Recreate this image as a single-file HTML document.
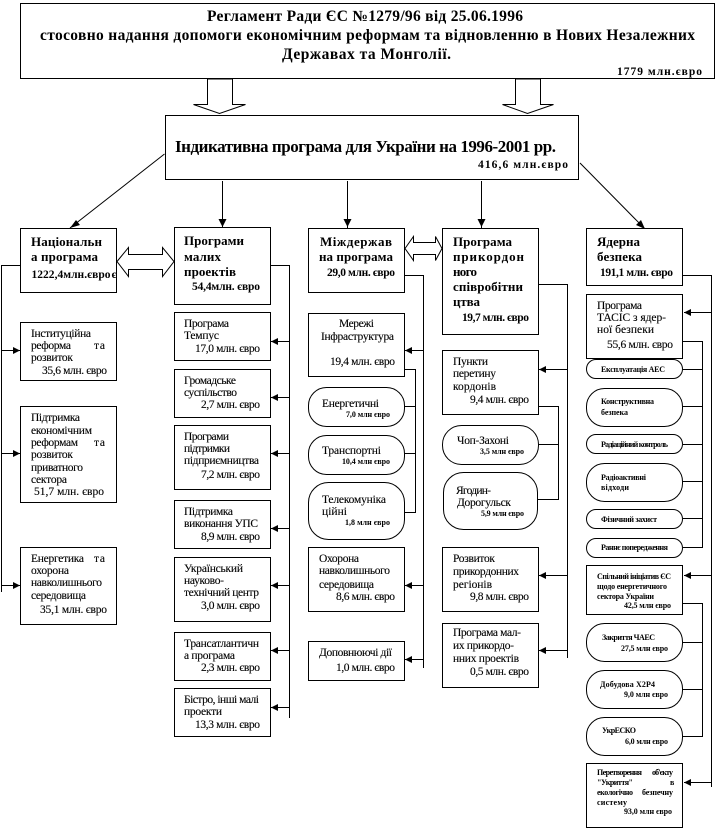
<!DOCTYPE html>
<html><head><meta charset="utf-8"><style>
html,body{margin:0;padding:0;background:#fff}
svg{display:block}
text{font-family:"Liberation Serif","DejaVu Serif",serif;fill:#000}
.r{font-size:11.5px;stroke:#000;stroke-width:.12}
.h{font-size:13px;font-weight:bold}
.m{font-size:11.5px;font-weight:bold}
.s{font-size:8px;font-weight:bold}
.t{font-size:15.5px;font-weight:bold}
.tt{font-size:17px;font-weight:bold}
rect,.p{fill:#fff;stroke:#000;stroke-width:1}
.w{fill:#fff;stroke:#000;stroke-width:1}
.l{fill:none;stroke:#000;stroke-width:1}
</style></head><body>
<svg xmlns="http://www.w3.org/2000/svg" width="715" height="831" viewBox="0 0 715 831">
<defs>
<polygon id="al" points="0,0 7,-3.5 7,3.5" fill="#000"/>
<polygon id="ar" points="0,0 -7,-3.5 -7,3.5" fill="#000"/>
<polygon id="ad" points="0,0 -4,-8 4,-8" fill="#000"/>
</defs>

<!-- connector lines -->
<path class="l" d="M164.5 154L70 228M222.5 181V228M347.5 181V228M481.5 181V228M580 163L645 229"/>
<polygon points="70,228 76,220 80,225" fill="#000"/>
<polygon points="645,229 636,225 641,220" fill="#000"/>
<use href="#ad" x="222.5" y="227"/><use href="#ad" x="347.5" y="227"/><use href="#ad" x="481.5" y="227"/>

<path class="l" d="M20 265.5H1.5V592M1.5 350.5H20M1.5 453.5H20M1.5 585.5H20"/>
<use href="#ar" x="20" y="350.5"/><use href="#ar" x="20" y="453.5"/><use href="#ar" x="20" y="585.5"/>

<path class="l" d="M270 265.5H289.5V718M289.5 341.5H271M289.5 397.5H271M289.5 453.5H271M289.5 528.5H271M289.5 585.5H271M289.5 650.5H271M289.5 707.5H271"/>
<use href="#al" x="271" y="341.5"/><use href="#al" x="271" y="397.5"/><use href="#al" x="271" y="453.5"/><use href="#al" x="271" y="528.5"/><use href="#al" x="271" y="585.5"/><use href="#al" x="271" y="650.5"/><use href="#al" x="271" y="707.5"/>

<path class="l" d="M405 275.5H423.5V668M423.5 350.5H405M423.5 585.5H405M423.5 659.5H405"/>
<use href="#al" x="405" y="350.5"/><use href="#al" x="405" y="585.5"/><use href="#al" x="405" y="659.5"/>
<path class="l" d="M405 369.5H415.5V512.5H405M405 406.5H415.5M405 453.5H415.5"/>

<path class="l" d="M539 284.5H567.5V658M567.5 369.5H539M567.5 575.5H539M567.5 650.5H539"/>
<use href="#al" x="539" y="369.5"/><use href="#al" x="539" y="575.5"/><use href="#al" x="539" y="650.5"/>
<path class="l" d="M539 406.5H558.5V499.5H537M539 444.5H558.5"/>

<path class="l" d="M683 275.5H711.5V787M711.5 312.5H684M711.5 575.5H684M711.5 782.5H684"/>
<use href="#al" x="684" y="312.5"/><use href="#al" x="684" y="575.5"/><use href="#al" x="684" y="782.5"/>
<path class="l" d="M683 341.5H702.5V547.5H683M683 369.5H702.5M683 406.5H702.5M683 444.5H702.5M683 481.5H702.5M683 518.5H702.5"/>
<path class="l" d="M683 603.5H702.5V736.5H683M683 642.5H702.5M683 689.5H702.5"/>

<!-- block arrows -->
<polygon class="w" points="207.5,79 232.5,79 232.5,104.5 245.5,104.5 219.5,113.5 193.5,104.5 207.5,104.5"/>
<polygon class="w" points="515.5,79 540.5,79 540.5,104.5 553.5,104.5 527.5,113.5 502.5,104.5 515.5,104.5"/>
<polygon class="w" points="117,261.5 128.5,247.5 128.5,254.5 162.5,254.5 162.5,247.5 174,261.5 162.5,276.5 162.5,269.5 128.5,269.5 128.5,276.5"/>
<polygon class="w" points="405,248.5 413.5,236.5 413.5,242.5 435.5,242.5 435.5,236.5 442,248.5 435.5,260.5 435.5,254.5 413.5,254.5 413.5,260.5"/>

<!-- boxes -->
<rect x="20.5" y="3.5" width="694" height="75"/>
<rect x="165.5" y="115.5" width="413" height="64"/>
<rect x="20.5" y="228.5" width="96" height="64"/>
<rect x="20.5" y="322.5" width="96" height="58"/>
<rect x="20.5" y="406.5" width="96" height="96"/>
<rect x="20.5" y="547.5" width="96" height="77"/>
<rect x="174.5" y="227.5" width="96" height="77"/>
<rect x="174.5" y="312.5" width="96" height="48"/>
<rect x="174.5" y="369.5" width="96" height="48"/>
<rect x="174.5" y="425.5" width="96" height="64"/>
<rect x="174.5" y="500.5" width="96" height="48"/>
<rect x="174.5" y="557.5" width="96" height="64"/>
<rect x="174.5" y="632.5" width="96" height="48"/>
<rect x="174.5" y="688.5" width="96" height="48"/>
<rect x="308.5" y="228.5" width="96" height="64"/>
<rect x="308.5" y="313.5" width="96" height="63"/>
<rect x="308.5" y="387.5" width="96" height="39" rx="18" ry="18"/>
<rect x="308.5" y="435.5" width="96" height="39" rx="18" ry="18"/>
<rect x="308.5" y="482.5" width="96" height="57" rx="20" ry="20"/>
<rect x="308.5" y="547.5" width="96" height="64"/>
<rect x="308.5" y="641.5" width="96" height="39"/>
<rect x="442.5" y="228.5" width="96" height="106"/>
<rect x="442.5" y="350.5" width="96" height="64"/>
<rect x="442.5" y="425.5" width="96" height="39" rx="19" ry="19"/>
<rect x="443.5" y="472.5" width="94" height="57" rx="20" ry="20"/>
<rect x="442.5" y="547.5" width="96" height="64"/>
<rect x="442.5" y="623.5" width="96" height="64"/>
<rect x="586.5" y="228.5" width="96" height="57"/>
<rect x="586.5" y="294.5" width="96" height="64"/>
<rect x="586.5" y="359.5" width="96" height="19" rx="9.5" ry="9.5"/>
<rect x="586.5" y="388.5" width="96" height="38" rx="18" ry="18"/>
<rect x="586.5" y="434.5" width="96" height="19" rx="9.5" ry="9.5"/>
<rect x="586.5" y="463.5" width="96" height="38" rx="18" ry="18"/>
<rect x="586.5" y="509.5" width="96" height="19" rx="9.5" ry="9.5"/>
<rect x="586.5" y="538.5" width="96" height="19" rx="9.5" ry="9.5"/>
<rect x="586.5" y="565.5" width="96" height="49"/>
<rect x="586.5" y="623.5" width="96" height="38" rx="18" ry="18"/>
<rect x="586.5" y="670.5" width="96" height="38" rx="18" ry="18"/>
<rect x="586.5" y="717.5" width="96" height="38" rx="18" ry="18"/>
<rect x="586.5" y="763.5" width="96" height="64"/>

<!-- top titles -->
<text class="t" x="207" y="21" textLength="316">Регламент Ради ЄС №1279/96 від 25.06.1996</text>
<text class="t" x="40" y="40" textLength="655">стосовно надання допомоги економічним реформам та відновленню в Нових  Незалежних</text>
<text class="t" x="282" y="59" textLength="169">Державах та  Монголії.</text>
<text class="m" x="617" y="75" textLength="85">1779 млн.євро</text>
<text class="tt" x="175" y="152" textLength="381">Індикативна програма для України на 1996-2001 рр.</text>
<text class="m" x="478" y="168" textLength="90">416,6 млн.євро</text>

<!-- column 1 -->
<text class="h" x="31" y="246" textLength="71">Національн</text>
<text class="h" x="31" y="261" textLength="67">а програма</text>
<text class="m" x="31.500" y="278" textLength="79">1222,4млн.євро</text>
<text class="m" x="111.500" y="278">є</text>
<text class="r" x="31" y="337" textLength="60">Інституційна</text>
<text class="r" x="31" y="349" textLength="40">реформа</text><text class="r" x="94" y="349" textLength="11">та</text>
<text class="r" x="31" y="361" textLength="42">розвиток</text>
<text class="r" x="42" y="374" textLength="65">35,6 млн. євро</text>
<text class="r" x="31" y="421" textLength="49">Підтримка</text>
<text class="r" x="31" y="434" textLength="61">економічним</text>
<text class="r" x="31" y="446" textLength="47">реформам</text><text class="r" x="94" y="446" textLength="11">та</text>
<text class="r" x="31" y="458" textLength="42">розвиток</text>
<text class="r" x="31" y="471" textLength="52">приватного</text>
<text class="r" x="31" y="483" textLength="36">сектора</text>
<text class="r" x="34" y="495" textLength="70">51,7  млн.  євро</text>
<text class="r" x="31" y="562" textLength="53">Енергетика</text><text class="r" x="94" y="562" textLength="11">та</text>
<text class="r" x="31" y="574" textLength="38">охорона</text>
<text class="r" x="31" y="586" textLength="71">навколишнього</text>
<text class="r" x="31" y="599" textLength="55">середовища</text>
<text class="r" x="40" y="613" textLength="67">35,1 млн.  євро</text>

<!-- column 2 -->
<text class="h" x="184" y="245" textLength="60">Програми</text>
<text class="h" x="184" y="261" textLength="37">малих</text>
<text class="h" x="184" y="276" textLength="52">проектів</text>
<text class="m" x="192" y="290" textLength="68">54,4млн. євро</text>
<text class="r" x="184" y="327" textLength="45">Програма</text>
<text class="r" x="184" y="339" textLength="35">Темпус</text>
<text class="r" x="195" y="352" textLength="65">17,0 млн. євро</text>
<text class="r" x="184" y="384" textLength="52">Громадське</text>
<text class="r" x="184" y="396" textLength="53">суспільство</text>
<text class="r" x="201" y="408" textLength="59">2,7 млн. євро</text>
<text class="r" x="184" y="440" textLength="45">Програми</text>
<text class="r" x="184" y="452" textLength="46">підтримки</text>
<text class="r" x="184" y="464" textLength="75">підприємництва</text>
<text class="r" x="201" y="478" textLength="59">7,2 млн. євро</text>
<text class="r" x="184" y="515" textLength="49">Підтримка</text>
<text class="r" x="184" y="527" textLength="74">виконання УПС</text>
<text class="r" x="201" y="540" textLength="59">8,9 млн. євро</text>
<text class="r" x="184" y="572" textLength="59">Український</text>
<text class="r" x="184" y="584" textLength="40">науково-</text>
<text class="r" x="184" y="596" textLength="75">технічний центр</text>
<text class="r" x="201" y="609" textLength="59">3,0 млн. євро</text>
<text class="r" x="184" y="647" textLength="75">Трансатлантичн</text>
<text class="r" x="184" y="659" textLength="51">а програма</text>
<text class="r" x="201" y="671" textLength="59">2,3 млн. євро</text>
<text class="r" x="184" y="703" textLength="75">Бістро, інші малі</text>
<text class="r" x="184" y="715" textLength="38">проекти</text>
<text class="r" x="195" y="728" textLength="65">13,3 млн. євро</text>

<!-- column 3 -->
<text class="h" x="320" y="246" textLength="72">Міждержав</text>
<text class="h" x="319" y="261" textLength="74">на програма</text>
<text class="m" x="327" y="276" textLength="68">29,0 млн. євро</text>
<text class="r" x="339" y="327" textLength="35">Мережі</text>
<text class="r" x="321" y="340" textLength="73">Інфраструктура</text>
<text class="r" x="330" y="365" textLength="65">19,4 млн. євро</text>
<text class="r" x="322" y="407" textLength="57">Енергетичні</text>
<text class="s" x="346" y="417" textLength="44">7,0 млн євро</text>
<text class="r" x="322" y="454" textLength="59">Транспортні</text>
<text class="s" x="342" y="464" textLength="48">10,4 млн євро</text>
<text class="r" x="322" y="503" textLength="64">Телекомуніка</text>
<text class="r" x="322" y="515" textLength="25">ційні</text>
<text class="s" x="345" y="525" textLength="45">1,8 млн євро</text>
<text class="r" x="319" y="562" textLength="40">Охорона</text>
<text class="r" x="319" y="574" textLength="71">навколишнього</text>
<text class="r" x="319" y="588" textLength="55">середовища</text>
<text class="r" x="336" y="600" textLength="59">8,6 млн. євро</text>
<text class="r" x="319" y="656" textLength="73">Доповнюючі дії</text>
<text class="r" x="336" y="671" textLength="59">1,0 млн. євро</text>

<!-- column 4 -->
<text class="h" x="453" y="246" textLength="59">Програма</text>
<text class="h" x="453" y="261" textLength="71">прикордон</text>
<text class="h" x="453" y="276" textLength="24">ного</text>
<text class="h" x="453" y="291" textLength="70">співробітни</text>
<text class="h" x="453" y="306" textLength="27">цтва</text>
<text class="m" x="462" y="321" textLength="67">19,7 млн. євро</text>
<text class="r" x="453" y="365" textLength="35">Пункти</text>
<text class="r" x="453" y="377" textLength="43">перетину</text>
<text class="r" x="453" y="390" textLength="43">кордонів</text>
<text class="r" x="470" y="403" textLength="59">9,4 млн. євро</text>
<text class="r" x="457" y="444" textLength="52">Чоп-Захоні</text>
<text class="s" x="480" y="454" textLength="44">3,5 млн євро</text>
<text class="r" x="456" y="494" textLength="35">Ягодин-</text>
<text class="r" x="457" y="506" textLength="54">Дорогульск</text>
<text class="s" x="481" y="516" textLength="43">5,9 млн євро</text>
<text class="r" x="453" y="562" textLength="42">Розвиток</text>
<text class="r" x="453" y="575" textLength="66">прикордонних</text>
<text class="r" x="453" y="588" textLength="39">регіонів</text>
<text class="r" x="470" y="600" textLength="59">9,8 млн. євро</text>
<text class="r" x="453" y="636" textLength="68">Програма мал-</text>
<text class="r" x="453" y="649" textLength="61">их прикордо-</text>
<text class="r" x="453" y="662" textLength="66">нних проектів</text>
<text class="r" x="470" y="675" textLength="59">0,5 млн. євро</text>

<!-- column 5 -->
<text class="h" x="597" y="246" textLength="43">Ядерна</text>
<text class="h" x="597" y="261" textLength="45">безпека</text>
<text class="m" x="600" y="276" textLength="73">191,1 млн. євро</text>
<text class="r" x="597" y="309" textLength="45">Програма</text>
<text class="r" x="597" y="321" textLength="69">ТАСІС з  ядер-</text>
<text class="r" x="597" y="333" textLength="57">ної безпеки</text>
<text class="r" x="607" y="348" textLength="66">55,6 млн. євро</text>
<text class="s" x="601" y="372" textLength="64">Експлуатація АЕС</text>
<text class="s" x="601" y="404" textLength="53">Конструктивна</text>
<text class="s" x="601" y="415" textLength="27">безпека</text>
<text class="s" x="601" y="447" textLength="67">Радіаційний контроль</text>
<text class="s" x="601" y="480" textLength="45">Радіоактивні</text>
<text class="s" x="601" y="490" textLength="28">відходи</text>
<text class="s" x="601" y="522" textLength="56">Фізичний захист</text>
<text class="s" x="601" y="550" textLength="67">Раннє попередження</text>
<text class="s" x="597" y="579" textLength="74">Спільний ініціатив ЄС</text>
<text class="s" x="597" y="589" textLength="70">щодо енергетичного</text>
<text class="s" x="597" y="599" textLength="57">сектора України</text>
<text class="s" x="624" y="608" textLength="47">42,5 млн євро</text>
<text class="s" x="602" y="640" textLength="53">Закриття ЧАЕС</text>
<text class="s" x="621" y="651" textLength="47">27,5 млн євро</text>
<text class="s" x="600" y="687" textLength="55">Добудова Х2Р4</text>
<text class="s" x="624" y="697" textLength="44">9,0 млн євро</text>
<text class="s" x="602" y="733" textLength="34">УкрЕСКО</text>
<text class="s" x="625" y="744" textLength="43">6,0 млн євро</text>
<text class="s" x="597" y="775" textLength="45">Перетворення</text><text class="s" x="652" y="775" textLength="21">об'єкту</text>
<text class="s" x="597" y="785" textLength="36">"Укриття"</text><text class="s" x="670" y="785">в</text>
<text class="s" x="597" y="795" textLength="36">екологічно</text><text class="s" x="642" y="795" textLength="31">безпечну</text>
<text class="s" x="597" y="805" textLength="30">систему</text>
<text class="s" x="624" y="814" textLength="48">93,0 млн євро</text>
</svg>
</body></html>
